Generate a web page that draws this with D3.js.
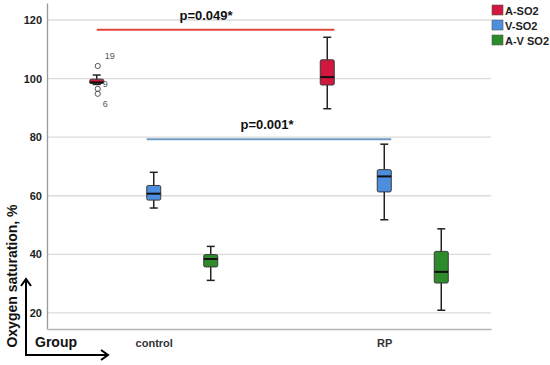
<!DOCTYPE html>
<html>
<head>
<meta charset="utf-8">
<script src="https://cdn.jsdelivr.net/npm/d3@7"></script>
<style>
  body { margin: 0; background: #fff; }
  text { font-family: "Liberation Sans", Arial, sans-serif; }
</style>
</head>
<body>
<div id="chart-area"></div>
<script>
// Data
var groups = ["control", "RP"];
var series = ["A-SO2", "V-SO2", "A-V SO2"];
var colors = ["#d2183f", "#4d8fdf", "#2e8b2b"];
var yTicks = [20, 40, 60, 80, 100, 120];

// box stats per series: [control, RP] as [min, q1, median, q3, max]
var aSO2 = [[98.0, 98.3, 98.7, 99.8, 101.2], [89.7, 97.8, 100.5, 106.4, 114.1]];
var vSO2 = [[55.8, 58.5, 60.7, 63.5, 68.0], [51.8, 61.3, 66.6, 68.9, 77.6]];
var avSO2 = [[31.1, 35.7, 38.4, 39.9, 42.7], [20.9, 30.2, 34.0, 41.0, 48.7]];
var stats = [aSO2, vSO2, avSO2];

// outliers of control A-SO2
var outValues = [104.3, 96.5, 94.8];
var outLabels = ["19", "9", "6"];

// significance bars
var sigValues = [116.7, 79.3];
var sigLabels = ["p=0.049*", "p=0.001*"];

var svg = d3.select("#chart-area")
    .append("svg")
        .attr("width", 550)
        .attr("height", 365);

// plot area edges (window.top is reserved, so plotTop)
var plotLeft = 47, plotRight = 491, plotTop = 3, plotBottom = 329;

// Scales
var x = d3.scalePoint()
    .domain(groups)
    .range([plotLeft, plotRight])
    .padding(0.463);

var sub = d3.scalePoint()
    .domain(series)
    .range([-57, 57]);

var y = d3.scaleLinear()
    .domain([14.5, 125.8])
    .range([plotBottom, plotTop]);

var boxW = 14;

// Gridlines
svg.append("g")
    .selectAll("line")
    .data(yTicks)
    .enter().append("line")
        .attr("x1", plotLeft)
        .attr("x2", plotRight)
        .attr("y1", function(d){ return y(d); })
        .attr("y2", function(d){ return y(d); })
        .attr("stroke", "#dcdcdc")
        .attr("stroke-width", 1.3);

// Y axis
var yAxisCall = d3.axisLeft(y)
    .tickValues(yTicks)
    .tickSize(0)
    .tickPadding(5);
var yAxisGroup = svg.append("g")
    .attr("transform", "translate(" + plotLeft + ",0)")
    .call(yAxisCall);
yAxisGroup.select(".domain").attr("stroke", "#9a9a9a").attr("stroke-width", 1.3);
yAxisGroup.selectAll("text")
    .attr("font-size", "11px")
    .attr("font-weight", "bold")
    .attr("fill", "#222")
    .style("font-family", "'Liberation Sans', Arial, sans-serif");

// X axis
var xAxisCall = d3.axisBottom(x)
    .tickSize(0)
    .tickPadding(10);
var xAxisGroup = svg.append("g")
    .attr("transform", "translate(0," + plotBottom + ")")
    .call(xAxisCall);
xAxisGroup.select(".domain").attr("stroke", "#b5b5b5").attr("stroke-width", 1.3);
xAxisGroup.selectAll("text")
    .attr("font-size", "11px")
    .attr("font-weight", "bold")
    .attr("fill", "#333")
    .style("font-family", "'Liberation Sans', Arial, sans-serif");

// Boxes
var boxData = [];
series.forEach(function(s, i) {
    groups.forEach(function(g, j) {
        var v = stats[i][j];
        boxData.push({ series: s, group: g, color: colors[i],
            min: v[0], q1: v[1], med: v[2], q3: v[3], max: v[4] });
    });
});

var boxes = svg.append("g")
    .selectAll("g")
    .data(boxData)
    .enter().append("g")
        .attr("transform", function(d){
            return "translate(" + (x(d.group) + sub(d.series)) + ",0)";
        });

// whiskers
boxes.append("line")
    .attr("x1", 0).attr("x2", 0)
    .attr("y1", function(d){ return y(d.min); })
    .attr("y2", function(d){ return y(d.max); })
    .attr("stroke", "#222")
    .attr("stroke-width", 1.5);

boxes.selectAll(".cap")
    .data(function(d){ return [d.min, d.max]; })
    .enter().append("line")
        .attr("class", "cap")
        .attr("x1", -4).attr("x2", 4)
        .attr("y1", function(v){ return y(v); })
        .attr("y2", function(v){ return y(v); })
        .attr("stroke", "#222")
        .attr("stroke-width", 1.5);

boxes.append("rect")
    .attr("x", -boxW / 2)
    .attr("width", boxW)
    .attr("y", function(d){ return y(d.q3); })
    .attr("height", function(d){ return y(d.q1) - y(d.q3); })
    .attr("rx", 1.5)
    .attr("fill", function(d){ return d.color; })
    .attr("stroke", "#3a3a3a")
    .attr("stroke-width", 1);

boxes.append("line")
    .attr("x1", -boxW / 2).attr("x2", boxW / 2)
    .attr("y1", function(d){ return y(d.med); })
    .attr("y2", function(d){ return y(d.med); })
    .attr("stroke", "#111")
    .attr("stroke-width", 2);

// Outliers (control, A-SO2)
var ox = x("control") + sub("A-SO2") + 1;
var outDy = [-7, -2, 13];
svg.append("g")
    .selectAll("circle")
    .data(outValues)
    .enter().append("circle")
        .attr("cx", ox)
        .attr("cy", function(d){ return y(d); })
        .attr("r", 2.6)
        .attr("fill", "none")
        .attr("stroke", "#555")
        .attr("stroke-width", 1);

svg.append("g")
    .selectAll("text")
    .data(outValues)
    .enter().append("text")
        .attr("x", function(d, i){ return ox + (i == 0 ? 7 : 5); })
        .attr("y", function(d, i){ return y(d) + outDy[i]; })
        .attr("font-size", "9px")
        .attr("fill", "#555")
        .text(function(d, i){ return outLabels[i]; });

// Significance lines
var sigX = [
    [x("control") + sub("A-SO2"), x("RP") + sub("A-SO2") + boxW / 2],
    [x("control") + sub("V-SO2") - boxW / 2, x("RP") + sub("V-SO2") + boxW / 2]
];
var sigColors = ["#e0453f", "#6f9cc6"];
var sigTextX = [206, 267];

sigValues.forEach(function(v, i) {
    svg.append("line")
        .attr("x1", sigX[i][0])
        .attr("x2", sigX[i][1])
        .attr("y1", y(v))
        .attr("y2", y(v))
        .attr("stroke", sigColors[i])
        .attr("stroke-width", 2);
    svg.append("text")
        .attr("x", sigTextX[i])
        .attr("y", y(v) - 10)
        .attr("text-anchor", "middle")
        .attr("font-size", "13px")
        .attr("font-weight", "bold")
        .attr("fill", "#111")
        .text(sigLabels[i]);
});

// Legend
var legend = svg.append("g")
    .attr("transform", "translate(492,5)");

var items = legend.selectAll("g")
    .data(series)
    .enter().append("g")
        .attr("transform", function(d, i){ return "translate(0," + (i * 15) + ")"; });

items.append("rect")
    .attr("width", 11)
    .attr("height", 10)
    .attr("fill", function(d, i){ return colors[i]; })
    .attr("stroke", "#555")
    .attr("stroke-width", 0.6);

items.append("text")
    .attr("x", 13)
    .attr("y", 9.5)
    .attr("font-size", "11px")
    .attr("font-weight", "bold")
    .attr("fill", "#222")
    .text(function(d){ return d; });

// Y Label
svg.append("text")
    .attr("transform", "translate(17,276) rotate(-90)")
    .attr("text-anchor", "middle")
    .attr("font-size", "14px")
    .attr("font-weight", "bold")
    .attr("fill", "#111")
    .text("Oxygen saturation, %");

// X Label
svg.append("text")
    .attr("x", 35)
    .attr("y", 347)
    .attr("font-size", "14px")
    .attr("font-weight", "bold")
    .attr("fill", "#111")
    .text("Group");

// Axis arrows
var arrow = svg.append("g")
    .attr("fill", "none")
    .attr("stroke", "#000")
    .attr("stroke-width", 2);

arrow.append("path")
    .attr("d", "M26,355 V279 M21,286 L26,279 L31,286");
arrow.append("path")
    .attr("d", "M25,355 H108 M101,350 L108,355 L101,360");
</script>
</body>
</html>
